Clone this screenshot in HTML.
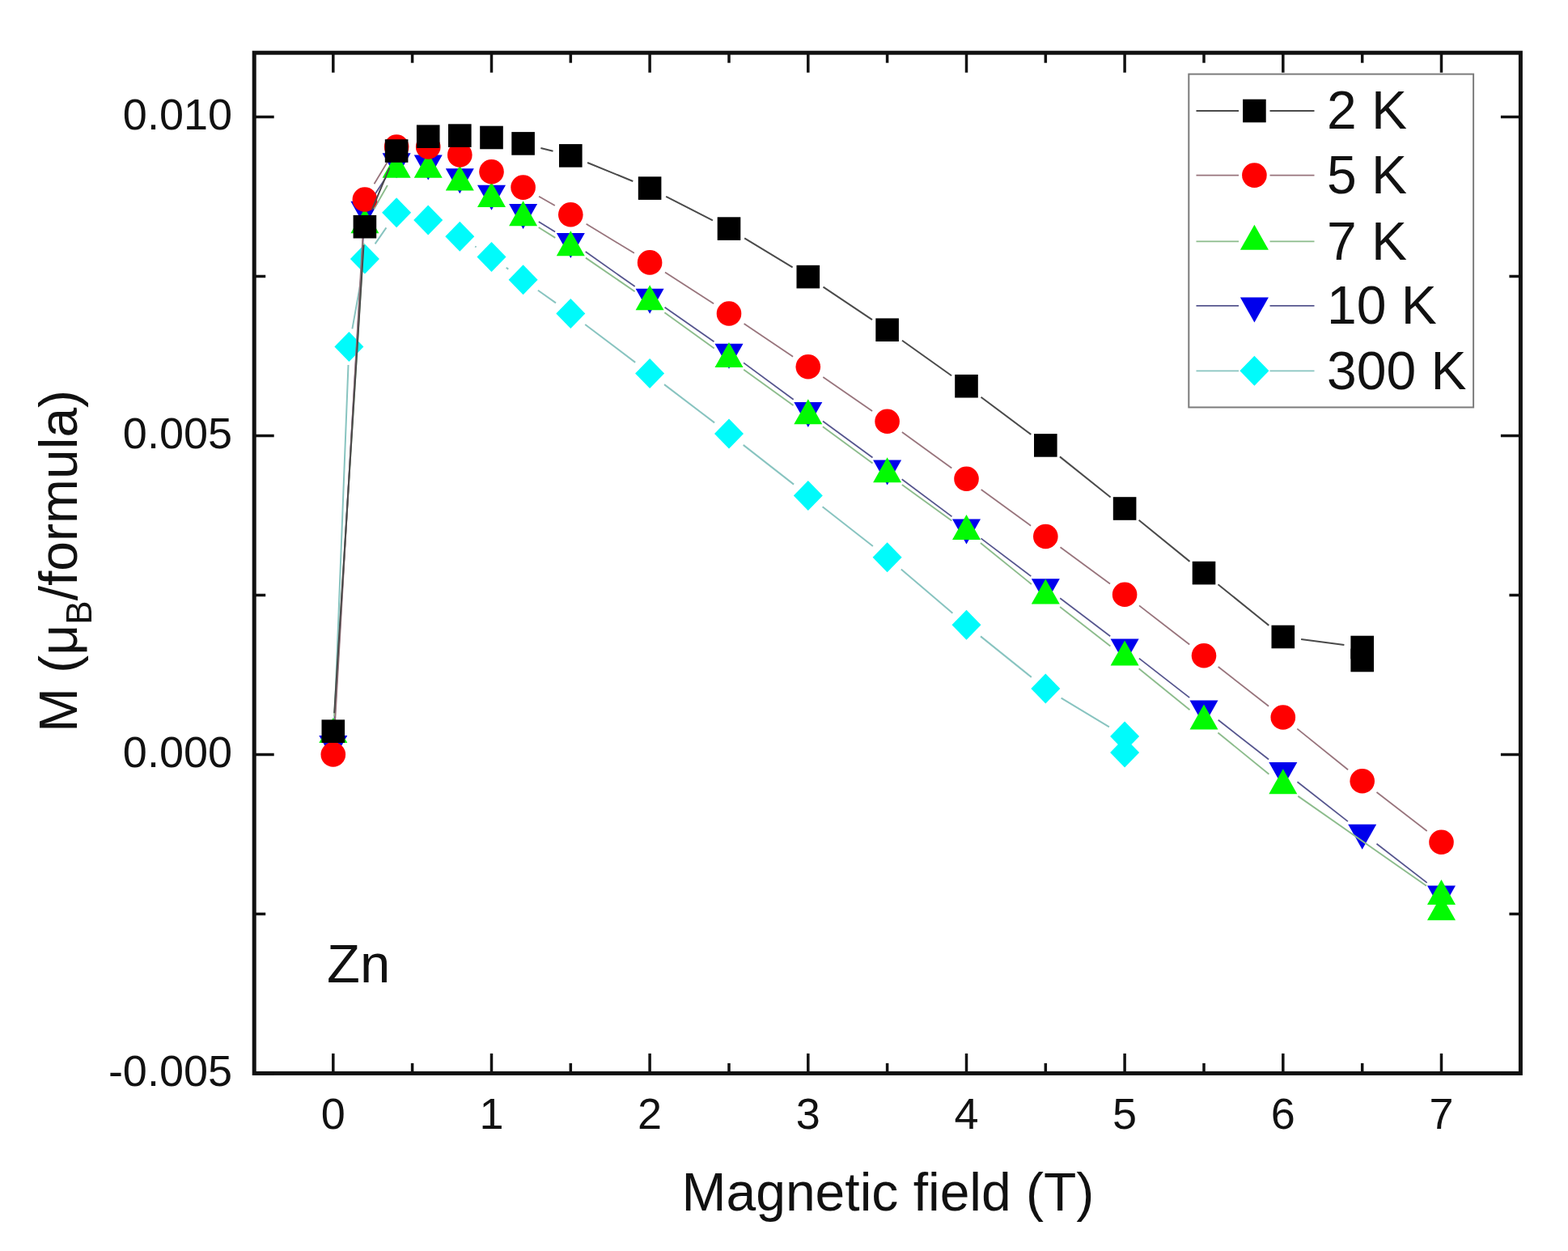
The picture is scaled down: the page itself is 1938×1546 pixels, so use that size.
<!DOCTYPE html>
<html><head><meta charset="utf-8"><title>Magnetization vs field</title>
<style>
html,body{margin:0;padding:0;background:#fff;}
body{width:1938px;height:1546px;overflow:hidden;}
svg{display:block;}
</style></head>
<body>
<svg width="1938" height="1546" viewBox="0 0 1938 1546">
<rect x="0" y="0" width="1938" height="1546" fill="#fff"/>
<g id="data">
<path d="M412.7,908.5L430.5,451.0M435.4,406.4L446.9,342.1M463.6,301.4L477.4,281.4M587.2,304.5L588.6,305.4M625.7,330.7L628.3,332.6M664.9,358.7L687.0,374.4M723.2,401.0L785.2,447.9M821.0,475.1L883.1,522.4M918.7,549.9L981.1,598.6M1016.6,626.3L1078.9,675.0M1113.8,703.4L1177.4,757.7M1212.0,786.4L1274.8,836.9M1311.6,862.6L1370.9,898.4" fill="none" stroke="#88c4c0" stroke-width="2.0"/>
<polygon points="431.4,410.0 449.4,428.5 431.4,447.0 413.4,428.5" fill="#00fbfb"/>
<polygon points="450.9,301.5 468.9,320.0 450.9,338.5 432.9,320.0" fill="#00fbfb"/>
<polygon points="490.1,244.3 508.1,262.8 490.1,281.3 472.1,262.8" fill="#00fbfb"/>
<polygon points="529.2,253.5 547.2,272.0 529.2,290.5 511.2,272.0" fill="#00fbfb"/>
<polygon points="568.3,273.8 586.3,292.3 568.3,310.8 550.3,292.3" fill="#00fbfb"/>
<polygon points="607.5,299.1 625.5,317.6 607.5,336.1 589.5,317.6" fill="#00fbfb"/>
<polygon points="646.6,327.2 664.6,345.7 646.6,364.2 628.6,345.7" fill="#00fbfb"/>
<polygon points="705.3,368.9 723.3,387.4 705.3,405.9 687.3,387.4" fill="#00fbfb"/>
<polygon points="803.1,443.0 821.1,461.5 803.1,480.0 785.1,461.5" fill="#00fbfb"/>
<polygon points="901.0,517.5 919.0,536.0 901.0,554.5 883.0,536.0" fill="#00fbfb"/>
<polygon points="998.8,594.0 1016.8,612.5 998.8,631.0 980.8,612.5" fill="#00fbfb"/>
<polygon points="1096.6,670.3 1114.6,688.8 1096.6,707.3 1078.6,688.8" fill="#00fbfb"/>
<polygon points="1194.5,753.8 1212.5,772.3 1194.5,790.8 1176.5,772.3" fill="#00fbfb"/>
<polygon points="1292.3,832.5 1310.3,851.0 1292.3,869.5 1274.3,851.0" fill="#00fbfb"/>
<polygon points="1390.1,891.5 1408.1,910.0 1390.1,928.5 1372.1,910.0" fill="#00fbfb"/>
<polygon points="1390.1,911.5 1408.1,930.0 1390.1,948.5 1372.1,930.0" fill="#00fbfb"/>
<path d="M413.1,896.8L449.6,281.5M463.3,240.2L477.7,218.3M665.8,274.0L686.1,286.5M723.7,311.1L784.7,354.1M821.6,379.8L882.5,422.2M919.1,448.4L980.7,493.8M1017.0,520.5L1078.5,565.5M1114.7,592.3L1176.5,638.4M1212.5,665.4L1274.3,712.1M1310.2,739.2L1372.2,786.2M1407.9,813.6L1470.2,862.1M1505.7,889.8L1568.1,938.5M1603.5,966.3L1665.9,1015.1M1701.5,1042.8L1763.7,1090.9" fill="none" stroke="#55558e" stroke-width="1.8"/>
<polygon points="394.3,909.0 429.3,909.0 411.8,940.0" fill="#0000ec"/>
<polygon points="433.4,248.7 468.4,248.7 450.9,279.7" fill="#0000ec"/>
<polygon points="472.6,189.2 507.6,189.2 490.1,220.2" fill="#0000ec"/>
<polygon points="511.7,191.5 546.7,191.5 529.2,222.5" fill="#0000ec"/>
<polygon points="550.8,208.3 585.8,208.3 568.3,239.3" fill="#0000ec"/>
<polygon points="590.0,228.7 625.0,228.7 607.5,259.7" fill="#0000ec"/>
<polygon points="629.1,252.0 664.1,252.0 646.6,283.0" fill="#0000ec"/>
<polygon points="687.8,287.9 722.8,287.9 705.3,318.9" fill="#0000ec"/>
<polygon points="785.6,356.7 820.6,356.7 803.1,387.7" fill="#0000ec"/>
<polygon points="883.5,424.7 918.5,424.7 901.0,455.7" fill="#0000ec"/>
<polygon points="981.3,496.9 1016.3,496.9 998.8,527.9" fill="#0000ec"/>
<polygon points="1079.1,568.5 1114.1,568.5 1096.6,599.5" fill="#0000ec"/>
<polygon points="1177.0,641.6 1212.0,641.6 1194.5,672.6" fill="#0000ec"/>
<polygon points="1274.8,715.3 1309.8,715.3 1292.3,746.3" fill="#0000ec"/>
<polygon points="1372.6,789.5 1407.6,789.5 1390.1,820.5" fill="#0000ec"/>
<polygon points="1470.5,865.6 1505.5,865.6 1488.0,896.6" fill="#0000ec"/>
<polygon points="1568.3,942.1 1603.3,942.1 1585.8,973.1" fill="#0000ec"/>
<polygon points="1666.2,1018.7 1701.2,1018.7 1683.7,1049.7" fill="#0000ec"/>
<polygon points="1764.0,1094.4 1799.0,1094.4 1781.5,1125.4" fill="#0000ec"/>
<path d="M413.2,885.2L449.5,300.5M462.1,258.5L478.9,229.0M665.7,281.0L686.3,293.9M723.9,318.6L784.6,360.3M821.4,386.2L882.7,430.4M919.2,456.7L980.5,500.9M1016.9,527.3L1078.5,572.6M1114.9,599.1L1176.3,643.5M1211.9,670.9L1274.9,722.0M1310.1,750.0L1372.4,798.4M1407.6,826.3L1470.5,877.2M1505.4,905.5L1568.4,956.8M1604.3,983.9L1763.0,1094.7" fill="none" stroke="#8cbc8c" stroke-width="1.9"/>
<polygon points="411.8,887.0 429.3,918.0 394.3,918.0" fill="#02fa02"/>
<polygon points="450.9,257.3 468.4,288.3 433.4,288.3" fill="#02fa02"/>
<polygon points="490.1,188.8 507.6,219.8 472.6,219.8" fill="#02fa02"/>
<polygon points="529.2,188.8 546.7,219.8 511.7,219.8" fill="#02fa02"/>
<polygon points="568.3,204.6 585.8,235.6 550.8,235.6" fill="#02fa02"/>
<polygon points="607.5,225.0 625.0,256.0 590.0,256.0" fill="#02fa02"/>
<polygon points="646.6,248.3 664.1,279.3 629.1,279.3" fill="#02fa02"/>
<polygon points="705.3,285.2 722.8,316.2 687.8,316.2" fill="#02fa02"/>
<polygon points="803.1,352.3 820.6,383.3 785.6,383.3" fill="#02fa02"/>
<polygon points="901.0,422.9 918.5,453.9 883.5,453.9" fill="#02fa02"/>
<polygon points="998.8,493.3 1016.3,524.3 981.3,524.3" fill="#02fa02"/>
<polygon points="1096.6,565.2 1114.1,596.2 1079.1,596.2" fill="#02fa02"/>
<polygon points="1194.5,636.0 1212.0,667.0 1177.0,667.0" fill="#02fa02"/>
<polygon points="1292.3,715.5 1309.8,746.5 1274.8,746.5" fill="#02fa02"/>
<polygon points="1390.1,791.5 1407.6,822.5 1372.6,822.5" fill="#02fa02"/>
<polygon points="1488.0,870.6 1505.5,901.6 1470.5,901.6" fill="#02fa02"/>
<polygon points="1585.8,950.3 1603.3,981.3 1568.3,981.3" fill="#02fa02"/>
<polygon points="1781.5,1086.9 1799.0,1117.9 1764.0,1117.9" fill="#02fa02"/>
<polygon points="1781.5,1106.3 1799.0,1137.3 1764.0,1137.3" fill="#02fa02"/>
<path d="M413.1,910.0L449.7,269.0M462.5,227.2L478.5,200.8M666.1,242.8L685.8,254.0M724.6,276.8L783.9,312.8M822.0,336.6L882.1,375.3M919.6,400.1L980.1,440.7M1017.3,466.1L1078.1,508.0M1114.9,534.0L1176.3,578.5M1212.7,605.0L1274.1,649.7M1310.5,676.3L1372.0,721.4M1408.0,748.4L1470.2,796.5M1505.7,824.0L1568.1,872.7M1603.3,900.6L1666.1,951.2M1701.5,979.0L1763.7,1027.0" fill="none" stroke="#98747c" stroke-width="1.8"/>
<circle cx="411.8" cy="932.5" r="15.3" fill="#ff0000"/>
<circle cx="450.9" cy="246.5" r="15.3" fill="#ff0000"/>
<circle cx="490.1" cy="181.5" r="15.3" fill="#ff0000"/>
<circle cx="529.2" cy="181.5" r="15.3" fill="#ff0000"/>
<circle cx="568.3" cy="191.4" r="15.3" fill="#ff0000"/>
<circle cx="607.5" cy="212.2" r="15.3" fill="#ff0000"/>
<circle cx="646.6" cy="231.6" r="15.3" fill="#ff0000"/>
<circle cx="705.3" cy="265.2" r="15.3" fill="#ff0000"/>
<circle cx="803.1" cy="324.4" r="15.3" fill="#ff0000"/>
<circle cx="901.0" cy="387.5" r="15.3" fill="#ff0000"/>
<circle cx="998.8" cy="453.3" r="15.3" fill="#ff0000"/>
<circle cx="1096.6" cy="520.8" r="15.3" fill="#ff0000"/>
<circle cx="1194.5" cy="591.7" r="15.3" fill="#ff0000"/>
<circle cx="1292.3" cy="663.0" r="15.3" fill="#ff0000"/>
<circle cx="1390.1" cy="734.7" r="15.3" fill="#ff0000"/>
<circle cx="1488.0" cy="810.2" r="15.3" fill="#ff0000"/>
<circle cx="1585.8" cy="886.5" r="15.3" fill="#ff0000"/>
<circle cx="1683.7" cy="965.3" r="15.3" fill="#ff0000"/>
<circle cx="1781.5" cy="1040.7" r="15.3" fill="#ff0000"/>
<path d="M413.2,881.2L449.5,302.7M459.6,259.4L481.4,207.3M668.4,183.0L683.5,186.8M726.1,201.0L782.3,224.0M823.2,242.8L880.9,272.4M920.2,294.3L979.6,330.4M1017.5,354.6L1078.0,395.2M1115.0,420.7L1176.1,464.2M1212.5,490.7L1274.3,536.9M1309.9,564.4L1372.6,614.5M1407.6,642.7L1470.5,693.9M1505.5,722.2L1568.3,772.9M1608.1,790.0L1661.4,797.0" fill="none" stroke="#4a4a4a" stroke-width="2.0"/>
<rect x="397.5" y="889.4" width="28.6" height="28.6" fill="#000"/>
<rect x="436.6" y="265.9" width="28.6" height="28.6" fill="#000"/>
<rect x="475.8" y="172.2" width="28.6" height="28.6" fill="#000"/>
<rect x="514.9" y="154.4" width="28.6" height="28.6" fill="#000"/>
<rect x="554.0" y="153.3" width="28.6" height="28.6" fill="#000"/>
<rect x="593.2" y="155.7" width="28.6" height="28.6" fill="#000"/>
<rect x="632.3" y="163.1" width="28.6" height="28.6" fill="#000"/>
<rect x="691.0" y="178.1" width="28.6" height="28.6" fill="#000"/>
<rect x="788.8" y="218.3" width="28.6" height="28.6" fill="#000"/>
<rect x="886.7" y="268.3" width="28.6" height="28.6" fill="#000"/>
<rect x="984.5" y="327.8" width="28.6" height="28.6" fill="#000"/>
<rect x="1082.3" y="393.4" width="28.6" height="28.6" fill="#000"/>
<rect x="1180.2" y="462.9" width="28.6" height="28.6" fill="#000"/>
<rect x="1278.0" y="536.1" width="28.6" height="28.6" fill="#000"/>
<rect x="1375.8" y="614.2" width="28.6" height="28.6" fill="#000"/>
<rect x="1473.7" y="693.8" width="28.6" height="28.6" fill="#000"/>
<rect x="1571.5" y="772.7" width="28.6" height="28.6" fill="#000"/>
<rect x="1669.4" y="785.7" width="28.6" height="28.6" fill="#000"/>
<rect x="1669.4" y="801.7" width="28.6" height="28.6" fill="#000"/>
</g>
<g id="axes">
<rect x="314.2" y="65.2" width="1565.2" height="1261.2" fill="none" stroke="#111" stroke-width="5.0"/>
<line x1="411.8" y1="1326.4" x2="411.8" y2="1301.9" stroke="#111" stroke-width="3.5"/>
<line x1="411.8" y1="65.2" x2="411.8" y2="89.7" stroke="#111" stroke-width="3.5"/>
<line x1="509.6" y1="1326.4" x2="509.6" y2="1313.9" stroke="#111" stroke-width="3.5"/>
<line x1="509.6" y1="65.2" x2="509.6" y2="77.7" stroke="#111" stroke-width="3.5"/>
<line x1="607.5" y1="1326.4" x2="607.5" y2="1301.9" stroke="#111" stroke-width="3.5"/>
<line x1="607.5" y1="65.2" x2="607.5" y2="89.7" stroke="#111" stroke-width="3.5"/>
<line x1="705.3" y1="1326.4" x2="705.3" y2="1313.9" stroke="#111" stroke-width="3.5"/>
<line x1="705.3" y1="65.2" x2="705.3" y2="77.7" stroke="#111" stroke-width="3.5"/>
<line x1="803.1" y1="1326.4" x2="803.1" y2="1301.9" stroke="#111" stroke-width="3.5"/>
<line x1="803.1" y1="65.2" x2="803.1" y2="89.7" stroke="#111" stroke-width="3.5"/>
<line x1="901.0" y1="1326.4" x2="901.0" y2="1313.9" stroke="#111" stroke-width="3.5"/>
<line x1="901.0" y1="65.2" x2="901.0" y2="77.7" stroke="#111" stroke-width="3.5"/>
<line x1="998.8" y1="1326.4" x2="998.8" y2="1301.9" stroke="#111" stroke-width="3.5"/>
<line x1="998.8" y1="65.2" x2="998.8" y2="89.7" stroke="#111" stroke-width="3.5"/>
<line x1="1096.6" y1="1326.4" x2="1096.6" y2="1313.9" stroke="#111" stroke-width="3.5"/>
<line x1="1096.6" y1="65.2" x2="1096.6" y2="77.7" stroke="#111" stroke-width="3.5"/>
<line x1="1194.5" y1="1326.4" x2="1194.5" y2="1301.9" stroke="#111" stroke-width="3.5"/>
<line x1="1194.5" y1="65.2" x2="1194.5" y2="89.7" stroke="#111" stroke-width="3.5"/>
<line x1="1292.3" y1="1326.4" x2="1292.3" y2="1313.9" stroke="#111" stroke-width="3.5"/>
<line x1="1292.3" y1="65.2" x2="1292.3" y2="77.7" stroke="#111" stroke-width="3.5"/>
<line x1="1390.1" y1="1326.4" x2="1390.1" y2="1301.9" stroke="#111" stroke-width="3.5"/>
<line x1="1390.1" y1="65.2" x2="1390.1" y2="89.7" stroke="#111" stroke-width="3.5"/>
<line x1="1488.0" y1="1326.4" x2="1488.0" y2="1313.9" stroke="#111" stroke-width="3.5"/>
<line x1="1488.0" y1="65.2" x2="1488.0" y2="77.7" stroke="#111" stroke-width="3.5"/>
<line x1="1585.8" y1="1326.4" x2="1585.8" y2="1301.9" stroke="#111" stroke-width="3.5"/>
<line x1="1585.8" y1="65.2" x2="1585.8" y2="89.7" stroke="#111" stroke-width="3.5"/>
<line x1="1683.7" y1="1326.4" x2="1683.7" y2="1313.9" stroke="#111" stroke-width="3.5"/>
<line x1="1683.7" y1="65.2" x2="1683.7" y2="77.7" stroke="#111" stroke-width="3.5"/>
<line x1="1781.5" y1="1326.4" x2="1781.5" y2="1301.9" stroke="#111" stroke-width="3.5"/>
<line x1="1781.5" y1="65.2" x2="1781.5" y2="89.7" stroke="#111" stroke-width="3.5"/>
<line x1="314.2" y1="1326.5" x2="338.7" y2="1326.5" stroke="#111" stroke-width="3.5"/>
<line x1="1879.4" y1="1326.5" x2="1854.9" y2="1326.5" stroke="#111" stroke-width="3.5"/>
<line x1="314.2" y1="1129.5" x2="328.2" y2="1129.5" stroke="#111" stroke-width="3.5"/>
<line x1="1879.4" y1="1129.5" x2="1865.4" y2="1129.5" stroke="#111" stroke-width="3.5"/>
<line x1="314.2" y1="932.5" x2="338.7" y2="932.5" stroke="#111" stroke-width="3.5"/>
<line x1="1879.4" y1="932.5" x2="1854.9" y2="932.5" stroke="#111" stroke-width="3.5"/>
<line x1="314.2" y1="735.5" x2="328.2" y2="735.5" stroke="#111" stroke-width="3.5"/>
<line x1="1879.4" y1="735.5" x2="1865.4" y2="735.5" stroke="#111" stroke-width="3.5"/>
<line x1="314.2" y1="538.5" x2="338.7" y2="538.5" stroke="#111" stroke-width="3.5"/>
<line x1="1879.4" y1="538.5" x2="1854.9" y2="538.5" stroke="#111" stroke-width="3.5"/>
<line x1="314.2" y1="341.5" x2="328.2" y2="341.5" stroke="#111" stroke-width="3.5"/>
<line x1="1879.4" y1="341.5" x2="1865.4" y2="341.5" stroke="#111" stroke-width="3.5"/>
<line x1="314.2" y1="144.5" x2="338.7" y2="144.5" stroke="#111" stroke-width="3.5"/>
<line x1="1879.4" y1="144.5" x2="1854.9" y2="144.5" stroke="#111" stroke-width="3.5"/>
</g>
<g id="legend">
<rect x="1469.3" y="91.6" width="351.8" height="411.8" fill="#fff" stroke="#7c7c7c" stroke-width="2"/>
<path d="M1478.5,137.0H1531M1569.5,137.0H1624.5" stroke="#4a4a4a" stroke-width="1.8"/>
<rect x="1536.1" y="122.7" width="28.6" height="28.6" fill="#000"/>
<text x="1640" y="159.3" font-size="66" font-family="Liberation Sans, Arial, sans-serif" fill="#111">2 K</text>
<path d="M1478.5,216.6H1531M1569.5,216.6H1624.5" stroke="#98747c" stroke-width="1.8"/>
<circle cx="1550.4" cy="216.6" r="15.3" fill="#ff0000"/>
<text x="1640" y="238.9" font-size="66" font-family="Liberation Sans, Arial, sans-serif" fill="#111">5 K</text>
<path d="M1478.5,298.4H1531M1569.5,298.4H1624.5" stroke="#8cbc8c" stroke-width="1.8"/>
<polygon points="1550.4,277.7 1567.9,308.7 1532.9,308.7" fill="#02fa02"/>
<text x="1640" y="320.7" font-size="66" font-family="Liberation Sans, Arial, sans-serif" fill="#111">7 K</text>
<path d="M1478.5,377.8H1531M1569.5,377.8H1624.5" stroke="#55558e" stroke-width="1.8"/>
<polygon points="1532.9,367.5 1567.9,367.5 1550.4,398.5" fill="#0000ec"/>
<text x="1640" y="400.1" font-size="66" font-family="Liberation Sans, Arial, sans-serif" fill="#111">10 K</text>
<path d="M1478.5,458.3H1531M1569.5,458.3H1624.5" stroke="#88c4c0" stroke-width="1.8"/>
<polygon points="1550.4,439.8 1568.4,458.3 1550.4,476.8 1532.4,458.3" fill="#00fbfb"/>
<text x="1640" y="480.6" font-size="66" font-family="Liberation Sans, Arial, sans-serif" fill="#111">300 K</text>
</g>
<g id="labels">
<text x="287" y="159.7" font-size="54" text-anchor="end" font-family="Liberation Sans, Arial, sans-serif" fill="#111">0.010</text>
<text x="287" y="553.7" font-size="54" text-anchor="end" font-family="Liberation Sans, Arial, sans-serif" fill="#111">0.005</text>
<text x="287" y="947.7" font-size="54" text-anchor="end" font-family="Liberation Sans, Arial, sans-serif" fill="#111">0.000</text>
<text x="287" y="1341.7" font-size="54" text-anchor="end" font-family="Liberation Sans, Arial, sans-serif" fill="#111">-0.005</text>
<text x="411.8" y="1394.5" font-size="54" text-anchor="middle" font-family="Liberation Sans, Arial, sans-serif" fill="#111">0</text>
<text x="607.5" y="1394.5" font-size="54" text-anchor="middle" font-family="Liberation Sans, Arial, sans-serif" fill="#111">1</text>
<text x="803.1" y="1394.5" font-size="54" text-anchor="middle" font-family="Liberation Sans, Arial, sans-serif" fill="#111">2</text>
<text x="998.8" y="1394.5" font-size="54" text-anchor="middle" font-family="Liberation Sans, Arial, sans-serif" fill="#111">3</text>
<text x="1194.5" y="1394.5" font-size="54" text-anchor="middle" font-family="Liberation Sans, Arial, sans-serif" fill="#111">4</text>
<text x="1390.1" y="1394.5" font-size="54" text-anchor="middle" font-family="Liberation Sans, Arial, sans-serif" fill="#111">5</text>
<text x="1585.8" y="1394.5" font-size="54" text-anchor="middle" font-family="Liberation Sans, Arial, sans-serif" fill="#111">6</text>
<text x="1781.5" y="1394.5" font-size="54" text-anchor="middle" font-family="Liberation Sans, Arial, sans-serif" fill="#111">7</text>
<text x="842.5" y="1495.6" font-size="66" font-family="Liberation Sans, Arial, sans-serif" fill="#111">Magnetic field (T)</text>
<text x="404" y="1213.6" font-size="67" font-family="Liberation Sans, Arial, sans-serif" fill="#111">Zn</text>
<text transform="translate(95.2,905) rotate(-90)" font-size="66" font-family="Liberation Sans, Arial, sans-serif" fill="#111">M (μ<tspan font-size="44" dy="17.6">B</tspan><tspan dy="-17.6">/formula)</tspan></text>
</g>
</svg>
</body></html>
